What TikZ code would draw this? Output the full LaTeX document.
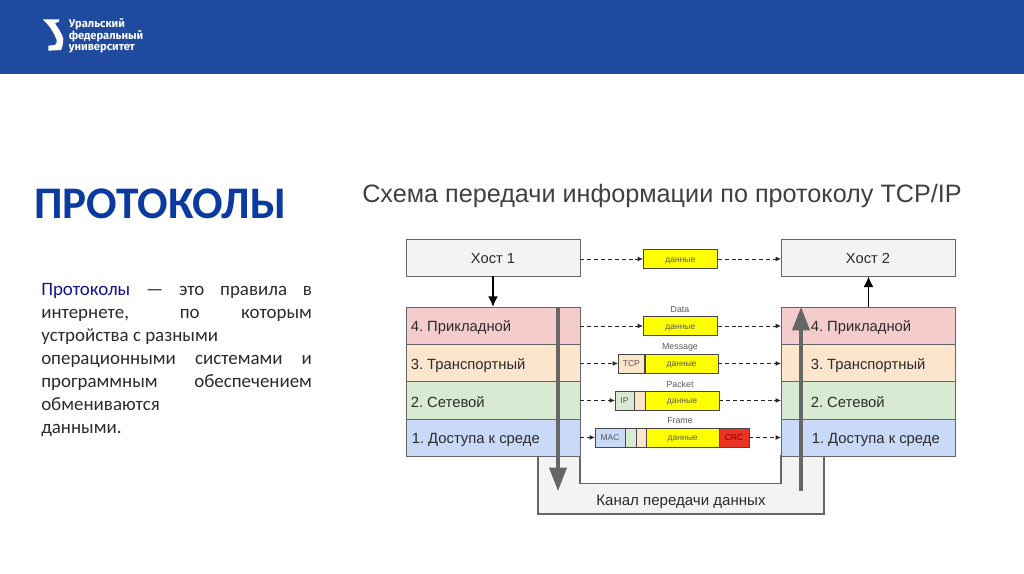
\documentclass[tikz,border=0pt]{standalone}
\usepackage{fontspec}
\setmainfont{Carlito}
\newfontfamily\arialf{Liberation Sans}
\newfontfamily\firaf{Fira Sans}
\usetikzlibrary{arrows.meta,calc}
\definecolor{hdr}{HTML}{1F4A9E}
\definecolor{ttl}{HTML}{0B3AA0}
\definecolor{ttlb}{HTML}{14148C}
\definecolor{boxln}{HTML}{666666}
\definecolor{hostf}{HTML}{F3F3F3}
\definecolor{l4}{HTML}{F4CCCC}
\definecolor{l3}{HTML}{FCE5CD}
\definecolor{l2}{HTML}{D9EAD3}
\definecolor{l1}{HTML}{C9DAF8}
\definecolor{yel}{HTML}{FFFF00}
\definecolor{crc}{HTML}{EA3323}
\definecolor{arr}{HTML}{666666}
\definecolor{txtc}{HTML}{2B2B2B}
\newcommand{\pxs}[1]{\fontsize{#1}{#1}\selectfont\frenchspacing}
\tikzset{
  x=0.75pt,y=-0.75pt,
  layerbox/.style={draw=boxln,line width=0.75pt,minimum width=130.5pt,inner sep=0pt,outer sep=0pt,font=\arialf\pxs{11},text=txtc},
  laytxt/.style={font=\arialf\pxs{11.1},text=txtc,inner sep=0pt,anchor=west},
  pkt/.style={draw=boxln!70!black,line width=0.6pt,inner sep=0pt,outer sep=0pt,minimum height=14.2pt,font=\arialf\pxs{6.4},text=black!65,text height=5pt,text depth=0pt},
  capt/.style={font=\arialf\pxs{6.6},text=black!65,inner sep=0pt},
  dashar/.style={draw=black!85,line width=0.6pt,dash pattern=on 3pt off 2.2pt,-{Latex[length=4pt,width=3.6pt]}},
  solidar/.style={draw=black,line width=1.35pt,-{Latex[length=8pt,width=7.5pt]}},
  bigar/.style={draw=arr,line width=2.6pt,-{Triangle[length=17.5pt,width=12.8pt]}},
}
\begin{document}
\begin{tikzpicture}
\useasboundingbox (0,0) rectangle (1024,574);
\fill[white] (0,0) rectangle (1024,574);
\fill[hdr] (0,0) rectangle (1024,74.5);
% logo
\fill[white] (42.7,19.3) -- (59.3,19.5) -- (59,21.5) -- (55,23.5) .. controls (59,29) and (62,34) .. (63.3,38.5) .. controls (63.3,44) and (62,48) .. (61,50) -- (48.3,50.7) -- (48.3,45.7) -- (55,45) .. controls (56.5,44) and (57,42) .. (56.7,40) .. controls (54,33) and (50,26) .. (42.7,19.3) -- cycle;
\node[anchor=north west,inner sep=0pt,text=white,align=left,font=\firaf\bfseries\fontsize{8.4}{8.7}\selectfont] (logo) at (68.5,18.5) {Уральский\\федеральный\\университет};
% left text
\node[anchor=base west,inner sep=0pt,text=ttl,font=\bfseries\pxs{33.9}] (title) at (34,218.5) {ПРОТОКОЛЫ};
\node[anchor=north west,inner sep=0pt,align=left,text=txtc,font=\fontsize{14.2}{17.3}\selectfont] (body) at (41,283) {%
\makebox[203pt][s]{\textcolor{ttlb}{Протоколы} — это правила в}\\
\makebox[203pt][s]{интернете, по которым}\\
устройства с разными\\
\makebox[203pt][s]{операционными системами и}\\
\makebox[203pt][s]{программным обеспечением}\\
обмениваются\\
данными.};
\node[anchor=base west,inner sep=0pt,text=black!75,font=\arialf\pxs{18.9}] (sub) at (362,202) {Схема передачи информации по протоколу TCP/IP};
% channel
\fill[hostf,draw=boxln,line width=0.8pt] (538,456) -- (538,514) -- (824,514) -- (824,456) -- (781,456) -- (781,483.5) -- (580,483.5) -- (580,456) -- cycle;
\node[font=\arialf\pxs{11.3},text=txtc,inner sep=0pt] (chan) at (681,502) {Канал передачи данных};
% hosts
\node[layerbox,fill=hostf,minimum height=28pt,anchor=north west,text height=9.4pt,text depth=0pt] (h1) at (406,239) {Хост 1};
\node[layerbox,fill=hostf,minimum height=28pt,anchor=north west,text height=9.4pt,text depth=0pt] (h2) at (781,239) {Хост 2};
% layers
\foreach \n/\x in {a/406,b/781}{
 \node[layerbox,fill=l4,minimum height=28pt,anchor=north west] (\n4) at (\x,307) {};
 \node[layerbox,fill=l3,minimum height=28pt,anchor=north west] (\n3) at (\x,344.5) {};
 \node[layerbox,fill=l2,minimum height=28pt,anchor=north west] (\n2) at (\x,381.8) {};
 \node[layerbox,fill=l1,minimum height=28pt,anchor=north west] (\n1) at (\x,419) {};
}
\node[laytxt] (ta4) at (410.5,328) {4. Прикладной};
\node[laytxt] (ta3) at (410.5,365.5) {3. Транспортный};
\node[laytxt] (ta2) at (410.5,402) {2. Сетевой};
\node[laytxt] (ta1) at (411.5,439.5) {1. Доступа к среде};
\node[laytxt] (tb4) at (810.5,328) {4. Прикладной};
\node[laytxt] (tb3) at (810.5,365.5) {3. Транспортный};
\node[laytxt] (tb2) at (810.5,402) {2. Сетевой};
\node[laytxt] (tb1) at (811.5,439.5) {1. Доступа к среде};
% big arrows
\coordinate (dn0) at (558,307);
\coordinate (dn1) at (558,491);
\coordinate (up0) at (801,491);
\coordinate (up1) at (801,307);
\draw[bigar] (dn0) -- (dn1);
\draw[bigar] (up0) -- (up1);
% solid arrows
\draw[solidar] (h1.south -| 493,0) -- (a4.north -| 493,0);
\draw[solidar] (b4.north -| 868.5,0) -- (h2.south -| 868.5,0);
% packets
\node[pkt,fill=yel,anchor=north west,minimum width=56pt] (d0) at (643,249.5) {данные};
\node[pkt,fill=yel,anchor=north west,minimum width=56pt] (d4) at (643,316.5) {данные};
\node[pkt,fill=l3,anchor=north west,minimum width=20pt] (tcp) at (618,354) {TCP};
\node[pkt,fill=yel,anchor=north west,minimum width=55pt] (d3) at (645,354) {данные};
\node[pkt,fill=l2,anchor=north west,minimum width=14.2pt] (ip) at (615,391) {IP};
\node[pkt,fill=l3,anchor=north west,minimum width=8.2pt] (ip2) at (634,391) {};
\node[pkt,fill=yel,anchor=north west,minimum width=55.5pt] (d2) at (645,391) {данные};
\node[pkt,fill=l1,anchor=north west,minimum width=22.5pt] (mac) at (595,428) {MAC};
\node[pkt,fill=l2,anchor=north west,minimum width=8.2pt] (m2) at (625,428) {};
\node[pkt,fill=l3,anchor=north west,minimum width=7.5pt] (m3) at (636,428) {};
\node[pkt,fill=yel,anchor=north west,minimum width=55pt] (d1) at (646,428) {данные};
\node[pkt,fill=crc,anchor=north west,minimum width=22.5pt,text=red!50!black] (crcn) at (719,428) {CRC};
% captions
\node[capt] (c4) at (680,310) {Data};
\node[capt] (c3) at (680,347) {Message};
\node[capt] (c2) at (680,384) {Packet};
\node[capt] (c1) at (680,421) {Frame};
% dashed
\draw[dashar] (h1.east |- d0.west) -- (d0.west);
\draw[dashar] (d0.east) -- (d0.east -| h2.west);
\draw[dashar] (a4.east |- d4.west) -- (d4.west);
\draw[dashar] (d4.east) -- (d4.east -| b4.west);
\draw[dashar] (a3.east |- tcp.west) -- (tcp.west);
\draw[dashar] (d3.east) -- (d3.east -| b3.west);
\draw[dashar] (a2.east |- ip.west) -- (ip.west);
\draw[dashar] (d2.east) -- (d2.east -| b2.west);
\draw[dashar] (a1.east |- mac.west) -- (mac.west);
\draw[dashar] (crcn.east) -- (crcn.east -| b1.west);
\end{tikzpicture}
\end{document}
